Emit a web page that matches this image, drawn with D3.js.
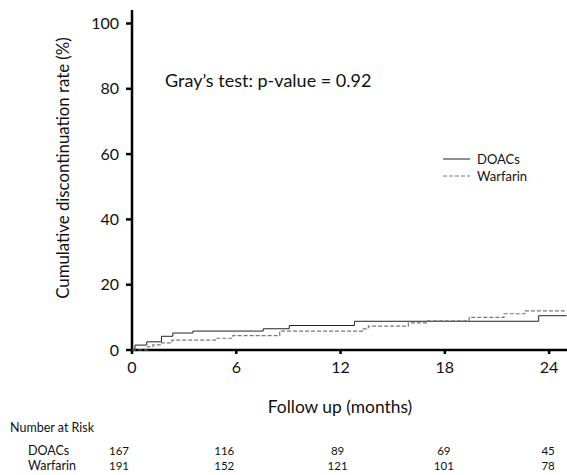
<!DOCTYPE html>
<html>
<head>
<meta charset="utf-8">
<script src="https://cdn.jsdelivr.net/npm/d3@7"></script>
<style>
  body { margin: 0; background: #fff; }
  text { font-family: Lato, "Noto Sans", sans-serif; fill: #111; }
</style>
</head>
<body>
<div class="km-plot"></div>
<script>
// step points [month, cumulative %]
const doacs = [[0,0],[0.17,1.5],[0.85,2.5],[1.7,4.2],[2.35,5.2],[3.5,5.8],[7.55,6.5],[9.05,7.5],[12.8,8.8],[23.4,10.5],[25,10.5]]
const warfarin = [[0,0],[0.85,0],[0.9,1.0],[1.2,1.6],[1.7,2.2],[2.3,3.0],[4.8,3.6],[5.8,4.4],[8.5,5.8],[13.3,6.5],[13.6,7.3],[15.9,8.3],[17.0,8.9],[19.4,10.0],[21.4,11.1],[22.6,12.0],[25,12.0]]
const xTicks = [0, 6, 12, 18, 24]
const yTicks = [0, 20, 40, 60, 80, 100]
const riskTimes = [0, 6, 12, 18, 24]
const riskDoacs = [167, 116, 89, 69, 45]
const riskWarfarin = [191, 152, 121, 101, 78]

const width = 567
const height = 475
const svg = d3.select('.km-plot').append('svg').attr('width', width).attr('height', height)

const x = d3.scaleLinear().domain([0, 25]).range([132, 566.5])
const y = d3.scaleLinear().domain([0, 100]).range([350, 23.5])

// y axis
svg.append('line')
    .attr('x1', 132).attr('x2', 132)
    .attr('y1', 10).attr('y2', 351)
    .attr('stroke', '#000').attr('stroke-width', 2.5)
svg.selectAll('line.ytick')
    .data(yTicks)
    .enter()
    .append('line')
    .attr('x1', 126).attr('x2', 132)
    .attr('y1', d=>y(d)).attr('y2', d=>y(d))
    .attr('stroke', '#000').attr('stroke-width', 2.5)
svg.selectAll('text.ylab')
    .data(yTicks)
    .enter()
    .append('text')
    .text(d=>d)
    .attr('x', 119)
    .attr('y', d=>y(d))
    .attr('dy', '0.35em')
    .attr('text-anchor', 'end')
    .attr('font-size', 16)

// x axis
svg.append('line')
    .attr('x1', 131).attr('x2', 567)
    .attr('y1', 350).attr('y2', 350)
    .attr('stroke', '#000').attr('stroke-width', 2.5)
svg.selectAll('line.xtick')
    .data(xTicks)
    .enter()
    .append('line')
    .attr('x1', d=>x(d)).attr('x2', d=>x(d))
    .attr('y1', 350).attr('y2', 354)
    .attr('stroke', '#000').attr('stroke-width', 2.5)
svg.selectAll('text.xlab')
    .data(xTicks)
    .enter()
    .append('text')
    .text(d=>d)
    .attr('x', d=>x(d))
    .attr('y', 373)
    .attr('text-anchor', 'middle')
    .attr('font-size', 16)

// curves
const step = d3.line().x(d=>x(d[0])).y(d=>y(d[1])).curve(d3.curveStepAfter)
svg.append('path')
    .attr('d', step(doacs))
    .attr('fill', 'none')
    .attr('stroke', '#222')
    .attr('stroke-width', 1)
svg.append('path')
    .attr('d', step(warfarin))
    .attr('fill', 'none')
    .attr('stroke', '#777')
    .attr('stroke-width', 1.2)
    .attr('stroke-dasharray', '4,2')

// titles
svg.append('text')
    .text('Cumulative discontinuation rate (%)')
    .attr('transform', 'translate(69,168) rotate(-90)')
    .attr('text-anchor', 'middle')
    .attr('font-size', 16.8)
svg.append('text')
    .text('Follow up (months)')
    .attr('x', 340)
    .attr('y', 413)
    .attr('text-anchor', 'middle')
    .attr('font-size', 17.4)
svg.append('text')
    .text('Gray\u2019s test: p-value = 0.92')
    .attr('x', 165)
    .attr('y', 87)
    .attr('font-size', 18)

// legend
const legend = [['DOACs', '#222', null], ['Warfarin', '#777', '4,2']]
legend.forEach((d,i)=>{
    svg.append('line')
        .attr('x1', 443).attr('x2', 470)
        .attr('y1', 159 + i*17).attr('y2', 159 + i*17)
        .attr('stroke', d[1]).attr('stroke-width', 1)
        .attr('stroke-dasharray', d[2])
    svg.append('text')
        .text(d[0])
        .attr('x', 477)
        .attr('y', 159 + i*17)
        .attr('dy', '0.35em')
        .attr('font-size', 13)
})

// number at risk
svg.append('text').text('Number at Risk').attr('x', 10).attr('y', 432).attr('font-size', 12.5)
svg.append('text').text('DOACs').attr('x', 28).attr('y', 455).attr('font-size', 12.5)
svg.append('text').text('Warfarin').attr('x', 28).attr('y', 470).attr('font-size', 12.5)
const riskShift = [-13, -12, -3, -1, -1]
svg.selectAll('text.riskd')
    .data(riskDoacs)
    .enter()
    .append('text')
    .text(d=>d)
    .attr('x', (d,i)=>x(riskTimes[i]) + riskShift[i])
    .attr('y', 455)
    .attr('text-anchor', 'middle')
    .attr('font-size', 11.5)
svg.selectAll('text.riskw')
    .data(riskWarfarin)
    .enter()
    .append('text')
    .text(d=>d)
    .attr('x', (d,i)=>x(riskTimes[i]) + riskShift[i])
    .attr('y', 470)
    .attr('text-anchor', 'middle')
    .attr('font-size', 11.5)
</script>
</body>
</html>
